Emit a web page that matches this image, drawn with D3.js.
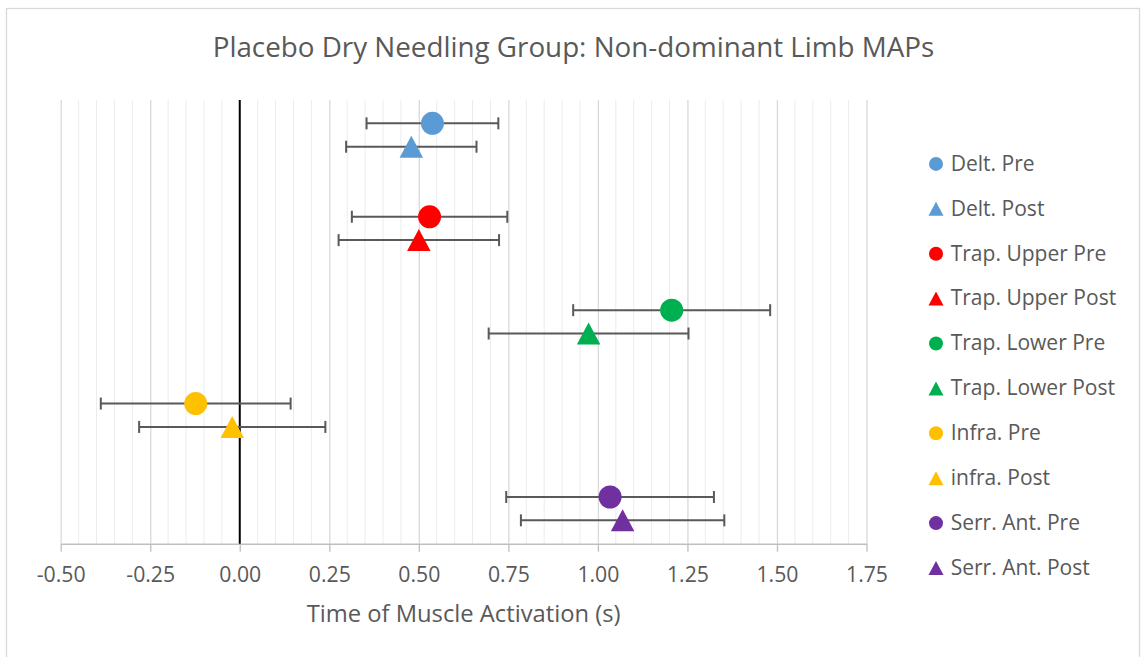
<!DOCTYPE html>
<html>
<head>
<meta charset="utf-8">
<script src="https://cdn.jsdelivr.net/npm/d3@7"></script>
<style>
  html, body { margin: 0; padding: 0; background: #fff; }
  svg { display: block; font-family: "Open Sans", "Noto Sans", sans-serif; }
</style>
</head>
<body>
<svg id="chart" width="1141" height="657"></svg>
<script>
// ---- data ----
const seriesNames = ["Delt. Pre", "Delt. Post", "Trap. Upper Pre", "Trap. Upper Post",
  "Trap. Lower Pre", "Trap. Lower Post", "Infra. Pre", "infra. Post",
  "Serr. Ant. Pre", "Serr. Ant. Post"];
const meanValues = [0.538, 0.479, 0.530, 0.500, 1.206, 0.974, -0.123, -0.021, 1.034, 1.069];
const errorValues = [0.184, 0.182, 0.217, 0.224, 0.275, 0.279, 0.265, 0.260, 0.290, 0.284];
const rowPositions = [18, 17, 14, 13, 10, 9, 6, 5, 2, 1];
const markerTypes = ["circle", "triangle", "circle", "triangle", "circle", "triangle",
  "circle", "triangle", "circle", "triangle"];
const seriesColors = ["#5b9bd5", "#5b9bd5", "#ff0000", "#ff0000", "#00b050", "#00b050",
  "#ffc000", "#ffc000", "#7030a0", "#7030a0"];
const xTicks = [-0.5, -0.25, 0, 0.25, 0.5, 0.75, 1.0, 1.25, 1.5, 1.75];
const xTickLabels = ["-0.50", "-0.25", "0.00", "0.25", "0.50", "0.75", "1.00", "1.25", "1.50", "1.75"];
const minorStep = 0.05;
const titleText = "Placebo Dry Needling Group: Non-dominant Limb MAPs";
const xAxisTitle = "Time of Muscle Activation (s)";

const data = seriesNames.map((n, i) => ({
  name: n, x: meanValues[i], err: errorValues[i], y: rowPositions[i],
  type: markerTypes[i], color: seriesColors[i]
}));

// ---- layout ----
const svg = d3.select("#chart");
const plot = { left: 60.7, right: 866.5, top: 100, bottom: 543.7 };
const x = d3.scaleLinear().domain([-0.5, 1.75]).range([plot.left, plot.right]);
const y = d3.scaleLinear().domain([0, 19]).range([plot.bottom, plot.top]);
const textColor = "#595959";

function fitWidth(sel, target) {
  const node = sel.node();
  const fs = parseFloat(sel.attr("font-size"));
  const w = node.getComputedTextLength();
  if (w > 0) sel.attr("font-size", fs * target / w);
}

// chart border
svg.append("rect")
  .attr("x", 6.5).attr("y", 8.5).attr("width", 1133).attr("height", 700)
  .attr("fill", "#fff").attr("stroke", "#d9d9d9").attr("stroke-width", 1.3);

// minor gridlines
const minorTicks = d3.range(0, 46).map(i => -0.5 + i * minorStep)
  .filter(v => Math.abs(Math.round(v / 0.25) * 0.25 - v) > 1e-6);
svg.append("g").selectAll("line").data(minorTicks).join("line")
  .attr("x1", d => x(d)).attr("x2", d => x(d))
  .attr("y1", plot.top).attr("y2", plot.bottom)
  .attr("stroke", "#ececec").attr("stroke-width", 1);

// x axis (major gridlines + ticks + labels)
const axis = d3.axisBottom(x).tickValues(xTicks)
  .tickFormat((d, i) => xTickLabels[i])
  .tickSize(8).tickSizeOuter(0);
const gx = svg.append("g").attr("transform", `translate(0,${plot.bottom})`).call(axis);
gx.attr("font-family", null).attr("font-size", null);
gx.select(".domain").attr("stroke", "#bfbfbf").attr("stroke-width", 1.5);
gx.selectAll(".tick line").attr("stroke", "#bfbfbf").attr("stroke-width", 1.3);
gx.selectAll(".tick text")
  .attr("fill", textColor).attr("font-size", 19.5)
  .attr("y", 0).attr("dy", 0).attr("transform", "translate(0,38)");
gx.selectAll(".tick").append("line")
  .attr("class", "grid")
  .attr("y1", 0).attr("y2", -(plot.bottom - plot.top))
  .attr("stroke", d => d === 0 ? "none" : "#d9d9d9").attr("stroke-width", 1.3);

// zero line (vertical axis)
svg.append("line")
  .attr("x1", x(0)).attr("x2", x(0)).attr("y1", plot.top).attr("y2", plot.bottom)
  .attr("stroke", "#000").attr("stroke-width", 2);

// error bars
const eb = svg.append("g").selectAll("g").data(data).join("g")
  .attr("stroke", "#595959").attr("stroke-width", 2);
eb.append("line")
  .attr("x1", d => x(d.x - d.err)).attr("x2", d => x(d.x + d.err))
  .attr("y1", d => y(d.y)).attr("y2", d => y(d.y));
eb.append("line")
  .attr("x1", d => x(d.x - d.err)).attr("x2", d => x(d.x - d.err))
  .attr("y1", d => y(d.y) - 6).attr("y2", d => y(d.y) + 6);
eb.append("line")
  .attr("x1", d => x(d.x + d.err)).attr("x2", d => x(d.x + d.err))
  .attr("y1", d => y(d.y) - 6).attr("y2", d => y(d.y) + 6);

// markers
function triPath(w, h) {
  return `M0,${-h / 2}L${w / 2},${h / 2}L${-w / 2},${h / 2}Z`;
}
const mk = svg.append("g").selectAll("g").data(data).join("g")
  .attr("transform", d => `translate(${x(d.x)},${y(d.y)})`);
mk.filter(d => d.type === "circle").append("circle")
  .attr("r", 11.5).attr("fill", d => d.color);
mk.filter(d => d.type === "triangle").append("path")
  .attr("d", triPath(23.5, 22)).attr("fill", d => d.color);

// legend
const legendTop = 163.9, legendStep = 44.9;
const lg = svg.append("g").selectAll("g").data(data).join("g")
  .attr("transform", (d, i) => `translate(936,${legendTop + i * legendStep})`);
lg.filter(d => d.type === "circle").append("circle")
  .attr("r", 7).attr("fill", d => d.color);
lg.filter(d => d.type === "triangle").append("path")
  .attr("d", triPath(15, 14)).attr("fill", d => d.color);
const lt = lg.append("text")
  .attr("x", 14.7).attr("y", 6.8)
  .attr("fill", textColor).attr("font-size", 18.5)
  .text(d => d.name);
fitWidth(d3.select(lt.nodes()[0]), 84);
const legendFs = d3.select(lt.nodes()[0]).attr("font-size");
lt.attr("font-size", legendFs);

// tick label width fit
const tl = gx.selectAll(".tick text").filter(d => d === 0.25);
fitWidth(tl, 42);
gx.selectAll(".tick text").attr("font-size", tl.attr("font-size"));

// x axis title
const at = svg.append("text")
  .attr("x", (plot.left + plot.right) / 2).attr("y", 621.7)
  .attr("text-anchor", "middle").attr("fill", textColor).attr("font-size", 22)
  .text(xAxisTitle);
fitWidth(at, 314);

// chart title
const tt = svg.append("text")
  .attr("x", 573.5).attr("y", 56.7)
  .attr("text-anchor", "middle").attr("fill", textColor).attr("font-size", 26)
  .text(titleText);
fitWidth(tt, 722);
</script>
</body>
</html>
